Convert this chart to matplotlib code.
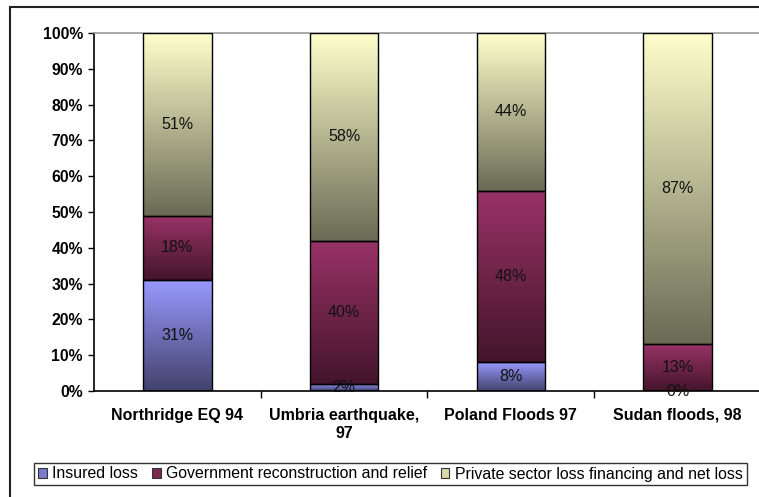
import numpy as np
import matplotlib
matplotlib.use("Agg")
import matplotlib.pyplot as plt
from matplotlib.colors import LinearSegmentedColormap
from matplotlib.patches import Rectangle, Patch

plt.rcParams['font.family'] = ['Liberation Sans', 'DejaVu Sans']

categories = ["Northridge EQ 94", "Umbria earthquake,\n97", "Poland Floods 97", "Sudan floods, 98"]
series_names = ["Insured loss", "Government reconstruction and relief",
                "Private sector loss financing and net loss"]
insured = [31, 2, 8, 0]
government = [18, 40, 48, 13]
private = [51, 58, 44, 87]
yticks = [0, 10, 20, 30, 40, 50, 60, 70, 80, 90, 100]

top_colors = ["#9999FF", "#993366", "#FFFFCC"]
bottom_colors = ["#42426C", "#44152C", "#6A6A55"]
legend_colors = ["#7A7ACC", "#7A2850", "#D8D8AA"]

W, H = 759, 497
fig = plt.figure(figsize=(W / 100, H / 100), dpi=100)

# outer chart frame
fig.patches.append(Rectangle((10 / W, -0.1), 1.2, 1 - 7 / H + 0.1, transform=fig.transFigure,
                             fill=False, edgecolor="#222222", linewidth=1.5))

ax = fig.add_axes([94 / W, 1 - 391 / H, (761 - 94) / W, (391 - 33) / H])
ax.set_xlim(0, 4)
ax.set_ylim(0, 100)

bar_w = 0.41
data = [insured, government, private]
for s, vals in enumerate(data):
    cmap = LinearSegmentedColormap.from_list(f"g{s}", [bottom_colors[s], top_colors[s]])
    for i, v in enumerate(vals):
        bottom = sum(data[k][i] for k in range(s))
        x0 = i + 0.5 - bar_w / 2
        if v > 0:
            grad = np.linspace(1, 0, 256).reshape(-1, 1)
            ax.imshow(grad, cmap=cmap, vmin=0, vmax=1, aspect='auto',
                      extent=[x0, x0 + bar_w, bottom, bottom + v], zorder=2,
                      interpolation='bilinear')
            ax.add_patch(Rectangle((x0, bottom), bar_w, v, fill=False,
                                   edgecolor="black", linewidth=1.0, zorder=3))
        ax.text(i + 0.5, bottom + v / 2, f"{v}%", ha='center', va='center',
                fontsize=11.5, color="#111111", zorder=5)

ax.set_xlim(0, 4)
ax.set_ylim(0, 100)

ax.set_yticks(yticks)
ax.set_yticklabels([f"{t}%" for t in yticks], fontsize=11.3, fontweight='bold')
ax.set_xticks([0.5, 1.5, 2.5, 3.5])
ax.set_xticklabels(categories, fontsize=11.5, fontweight='bold', linespacing=1.3)
ax.set_xticks([1, 2, 3, 4], minor=True)
ax.tick_params(axis='x', which='major', length=0, pad=12)
ax.tick_params(axis='x', which='minor', length=5, width=1, direction='out')
ax.tick_params(axis='y', length=4, width=1, direction='out', pad=4)

for side in ['left', 'bottom']:
    ax.spines[side].set_color('black')
    ax.spines[side].set_linewidth(1.2)
for side in ['top', 'right']:
    ax.spines[side].set_color('#999999')
    ax.spines[side].set_linewidth(1.2)

handles = [Patch(facecolor=legend_colors[i], edgecolor='#333333', linewidth=0.8)
           for i in range(3)]
leg = fig.legend(handles, series_names, loc='center', ncol=3,
                 bbox_to_anchor=(390.5 / W, 1 - 474 / H), fontsize=11.4,
                 frameon=True, fancybox=False, edgecolor='black',
                 handlelength=0.55, handleheight=0.55, handletextpad=0.35,
                 columnspacing=0.85, borderpad=0.25, borderaxespad=0)
leg.get_frame().set_linewidth(1.0)

fig.savefig("out.png", dpi=100)
